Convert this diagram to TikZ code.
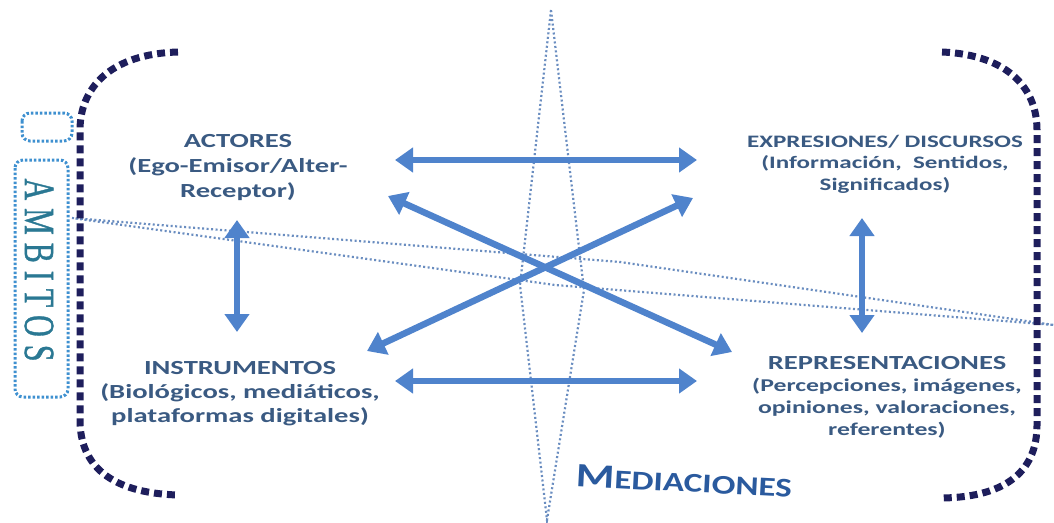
\documentclass[tikz,border=0pt]{standalone}
\usepackage{fontspec}
\usepackage{graphicx}
\usetikzlibrary{arrows.meta}
\newfontfamily\lblfont{Carlito}[FakeStretch=1.43]
\newfontfamily\medfont{Carlito}[FakeStretch=1.3]
\newfontfamily\ambfont{Liberation Serif}[FakeBold=1.2]
\definecolor{lblcol}{HTML}{3A5A82}
\definecolor{arrowblue}{HTML}{4F83CC}
\definecolor{navy}{HTML}{1E1E5C}
\definecolor{dotblue}{HTML}{6A8DC0}
\definecolor{boxblue}{HTML}{3E90D0}
\definecolor{ambcol}{HTML}{2A7893}
\definecolor{medcol}{HTML}{2A5A9E}
\begin{document}
\begin{tikzpicture}[x=1pt,y=-1pt,
  arr/.style={draw=arrowblue, line width=6.5pt, {Triangle[length=18pt,width=24pt]}-{Triangle[length=18pt,width=24pt]}},
  bracket/.style={draw=navy, line width=7pt, dash pattern=on 8pt off 5pt},
  lens/.style={draw=dotblue, line width=2.2pt, dash pattern=on 2pt off 2.5pt},
  ambbox/.style={draw=boxblue, line width=3pt, dash pattern=on 2.5pt off 2pt, rounded corners=8pt},
  lbl/.style={text=lblcol, align=center, inner sep=0pt}]
\useasboundingbox (0,0) rectangle (1054,522);
% lenses
\coordinate (vt) at (551,10);
\coordinate (vl) at (520,285);
\coordinate (vb) at (547,520);
\coordinate (vr) at (584,290);
\draw[lens] (vt) -- (vl) -- (vb) -- (vr) -- cycle;
\coordinate (hl) at (72,218);
\coordinate (ht) at (620,262);
\coordinate (hr) at (1054,325);
\coordinate (hb) at (555,285);
\draw[lens] (hl) -- (ht) -- (hr) -- (hb) -- cycle;
% arrows
\coordinate (t1) at (395,160); \coordinate (t2) at (697,160);
\coordinate (b1) at (395,381); \coordinate (b2) at (697,381);
\coordinate (l1) at (237,220); \coordinate (l2) at (237,332);
\coordinate (r1) at (862,218); \coordinate (r2) at (862,333);
\coordinate (d1) at (388,196); \coordinate (d2) at (732,352);
\coordinate (e1) at (367,351); \coordinate (e2) at (693,198);
\draw[arr] (t1) -- (t2);
\draw[arr] (b1) -- (b2);
\draw[arr] (l1) -- (l2);
\draw[arr] (r1) -- (r2);
\draw[arr] (d1) -- (d2);
\draw[arr] (e1) -- (e2);
% ambitos boxes
\draw[ambbox] (22,113) rectangle (72,141);
\draw[ambbox] (15,160) rectangle (68,397);
% brackets
\draw[bracket] (178,52) .. controls (110,54) and (80,88) .. (80,130) -- (80,420) .. controls (80,465) and (110,493) .. (178,495);
\draw[bracket] (942,52) .. controls (1010,55) and (1037,90) .. (1037,130) -- (1037,425) .. controls (1037,468) and (1010,497) .. (942,498);
% texts
\node[lbl, font=\lblfont\bfseries\fontsize{20}{25}\selectfont] (actores) at (238,168) {ACTORES\\(Ego-Emisor/Alter-\\Receptor)};
\node[lbl, font=\lblfont\bfseries\fontsize{20}{24}\selectfont] (instr) at (240,394) {INSTRUMENTOS\\(Biológicos, mediáticos,\\plataformas digitales)};
\node[lbl, font=\lblfont\bfseries\fontsize{17.5}{21.5}\selectfont] (expr) at (885,164) {EXPRESIONES/ DISCURSOS\\(Información,\ \ Sentidos,\\Significados)};
\node[lbl, font=\lblfont\bfseries\fontsize{18}{22}\selectfont] (repr) at (887,397) {{\fontsize{20}{22}\selectfont REPRESENTACIONES}\\(Percepciones, imágenes,\\opiniones, valoraciones,\\referentes)};
\node[text=medcol, inner sep=0pt, rotate=-3] (med) at (684,481) {\medfont\bfseries{\fontsize{34}{34}\selectfont M}{\fontsize{27}{27}\selectfont EDIACIONES}};
\node[text=ambcol, inner sep=0pt, rotate=-90] (amb) at (39,270) {\ambfont\scalebox{1}[1.43]{\fontsize{30}{30}\selectfont A\hspace{8pt}M\hspace{8pt}B\hspace{8pt}I\hspace{8pt}T\hspace{8pt}O\hspace{8pt}S}};
\end{tikzpicture}
\end{document}
